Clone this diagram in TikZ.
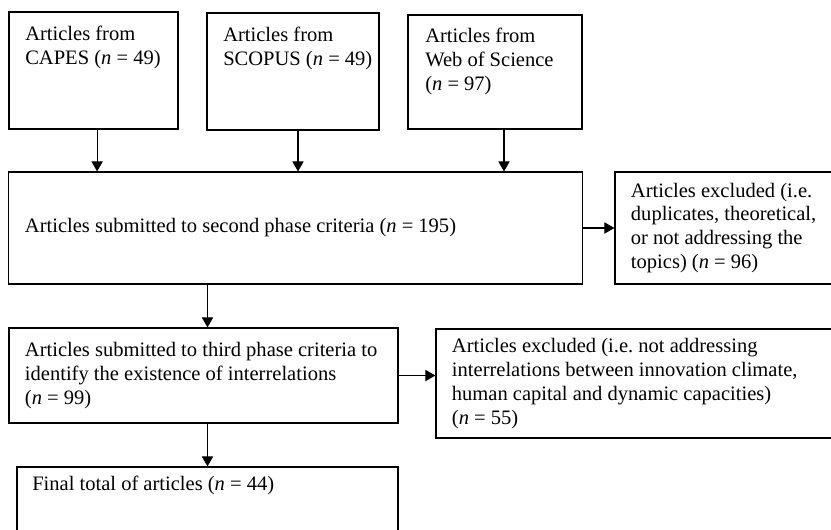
\documentclass[tikz,border=0pt]{standalone}
\usepackage{fontspec}
\setmainfont{Liberation Serif}
\usepackage{tikz}
\usetikzlibrary{arrows.meta,positioning,calc}
\frenchspacing

\begin{document}
\begin{tikzpicture}[
  x=0.025cm,y=-0.025cm,
  box/.style={draw,line width=0.8pt,inner sep=0pt},
  txtbox/.style={box,inner xsep=0.4cm,align=flush left,
                 font=\fontsize{14.6}{17}\selectfont},
  lbl/.style={inner sep=0pt,anchor=north west,align=left,
              font=\fontsize{14.6}{17}\selectfont},
  arr/.style={-{Triangle[width=0.28cm,length=0.25cm]},line width=0.8pt}
]
\useasboundingbox (0,0) rectangle (831,529);
\clip (0,0) rectangle (831,529);

% first phase: the three databases
\node[box,minimum width=4.225cm,minimum height=2.925cm] (capes)  at (93.5,70.5) {};
\node[box,minimum width=4.3cm,  minimum height=2.925cm] (scopus) at (293,71.5)  {};
\node[box,minimum width=4.35cm, minimum height=2.85cm]  (wos)    at (495,72)    {};
\node[lbl] (capes-t)  at (25,26)  {Articles from\\CAPES (\textit{n} = 49)};
\node[lbl] (scopus-t) at (223,27) {Articles from\\SCOPUS (\textit{n} = 49)};
\node[lbl] (wos-t)    at (425,28) {Articles from\\Web of Science\\(\textit{n} = 97)};

% second and third phase
\node[txtbox,text width=13.525cm,minimum height=2.8cm] (second) at (295.5,228)
  {Articles submitted to second phase criteria (\textit{n} = 195)};
\node[txtbox,text width=4.825cm,minimum height=2.8cm] (excl1) at (727.5,228)
  {Articles excluded (i.e.\\duplicates, theoretical,\\or not addressing the\\topics) (\textit{n} = 96)};
\node[txtbox,text width=8.925cm,minimum height=2.375cm] (third) at (203.5,375.5)
  {Articles submitted to third phase criteria to\\identify the existence of interrelations\\(\textit{n} = 99)};
\node[txtbox,text width=9.3cm,minimum height=2.725cm] (excl2) at (638,383.5)
  {Articles excluded (i.e. not addressing\\interrelations between innovation climate,\\human capital and dynamic capacities)\\(\textit{n} = 55)};

% final
\node[box,minimum width=9.525cm,minimum height=1.95cm] (final) at (207.5,506) {};
\node[lbl] (final-t) at (32,476) {Final total of articles (\textit{n} = 44)};

\draw[arr] ([xshift=0.09cm]capes.south)   -- ([xshift=0.09cm]capes.south |- second.north);
\draw[arr] ([xshift=0.125cm]scopus.south) -- ([xshift=0.125cm]scopus.south |- second.north);
\draw[arr] ([xshift=0.225cm]wos.south)    -- ([xshift=0.225cm]wos.south |- second.north);
\draw[arr] (second.east) -- (excl1.west);
\draw[arr] (final.north |- second.south) -- (final.north |- third.north);
\draw[arr] (third.east) -- (third.east -| excl2.west);
\draw[arr] (final.north |- third.south) -- (final.north);
\end{tikzpicture}
\end{document}
